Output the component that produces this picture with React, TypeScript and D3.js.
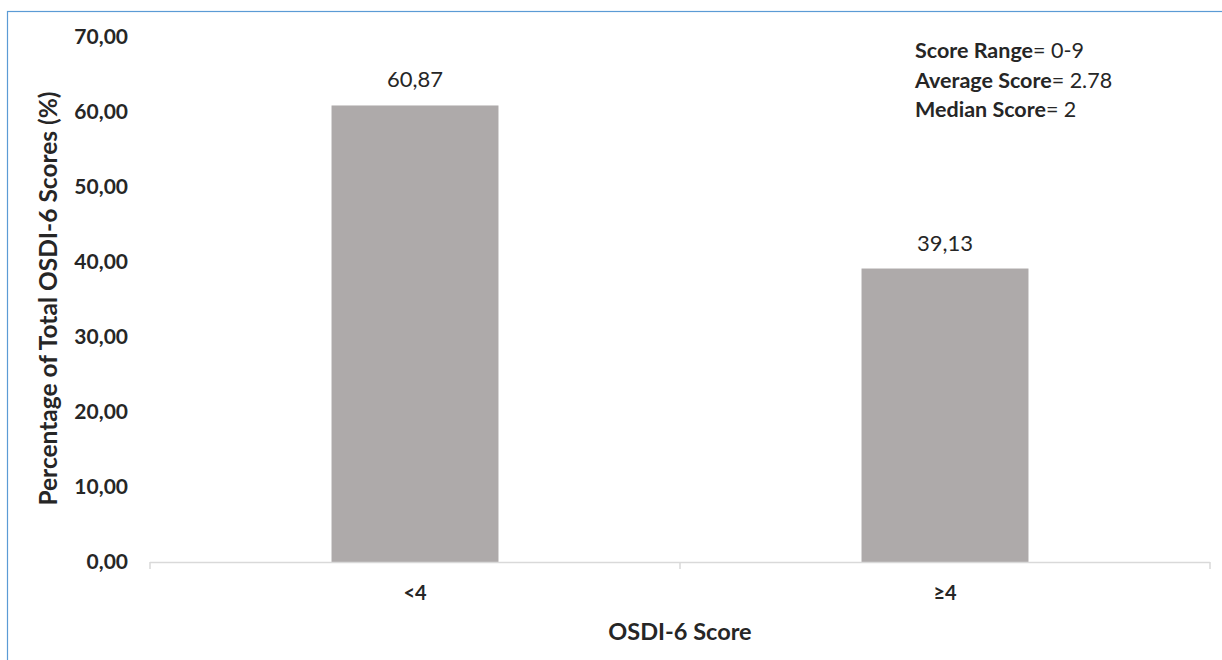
import React from "react";
import * as d3 from "d3";

// chart data
const categories = ["<4", "≥4"];
const percentages = [60.87, 39.13];
const valueLabels = ["60,87", "39,13"];
const yTicks = [0, 10, 20, 30, 40, 50, 60, 70];
const notes = [
  { bold: "Score Range", rest: "= 0-9" },
  { bold: "Average Score", rest: "= 2.78" },
  { bold: "Median Score", rest: "= 2" },
];

const W = 1222;
const H = 660;
const FONT = "Lato, 'Open Sans', sans-serif";
const TEXT = "#262626";

export default function App() {
  const margin = { top: 37, right: 12, bottom: 98, left: 150 };
  const plotW = W - margin.left - margin.right;
  const plotH = H - margin.top - margin.bottom;

  const x = d3.scaleBand().domain(categories).range([0, plotW]).padding(0);
  const y = d3.scaleLinear().domain([0, 70]).range([plotH, 0]);
  const barW = x.bandwidth() * 0.315;
  const fmt = (v: number) => d3.format(".2f")(v).replace(".", ",");

  return (
    <svg
      width={W}
      height={H}
      style={{ position: "absolute", left: 0, top: 0, background: "#fff" }}
      fontFamily={FONT}
    >
      {/* outer frame */}
      <rect x={7.5} y={11.5} width={1300} height={700} fill="#fff" stroke="#5B9BD5" strokeWidth={1.2} />

      <g transform={`translate(${margin.left},${margin.top})`}>
        {/* bars */}
        {categories.map((c, i) => {
          const cx = (x(c) as number) + x.bandwidth() / 2;
          return (
            <g key={c}>
              <rect
                x={cx - barW / 2}
                y={y(percentages[i])}
                width={barW}
                height={plotH - y(percentages[i])}
                fill="#AEAAAA"
              />
              <text
                x={cx}
                y={y(percentages[i]) - 18}
                textAnchor="middle"
                fontSize={22}
                fill={TEXT}
              >
                {valueLabels[i]}
              </text>
              <text
                x={cx}
                y={plotH + 38}
                textAnchor="middle"
                fontSize={20}
                fontWeight="bold"
                fill={TEXT}
              >
                {c}
              </text>
            </g>
          );
        })}

        {/* x axis */}
        <line x1={0} x2={plotW} y1={plotH + 0.5} y2={plotH + 0.5} stroke="#D9D9D9" strokeWidth={1.5} />
        {[0, 1, 2].map((k) => (
          <line
            key={k}
            x1={k * x.step()}
            x2={k * x.step()}
            y1={plotH}
            y2={plotH + 7}
            stroke="#D9D9D9"
            strokeWidth={1.5}
          />
        ))}

        {/* y tick labels */}
        {yTicks.map((t) => (
          <text
            key={t}
            x={-22}
            y={y(t)}
            dy="0.35em"
            textAnchor="end"
            fontSize={21}
            fontWeight="bold"
            fill={TEXT}
          >
            {fmt(t)}
          </text>
        ))}

        {/* axis titles */}
        <text
          transform={`translate(${-93},${plotH / 2 - 1}) rotate(-90)`}
          textAnchor="middle"
          fontSize={24.5}
          fontWeight="bold"
          fill={TEXT}
        >
          Percentage of Total OSDI-6 Scores (%)
        </text>
        <text
          x={plotW / 2}
          y={plotH + 78}
          textAnchor="middle"
          fontSize={23.5}
          fontWeight="bold"
          fill={TEXT}
        >
          OSDI-6 Score
        </text>

        {/* annotation */}
        {notes.map((n, i) => (
          <text key={n.bold} x={765} y={21 + i * 29.5} fontSize={21.5} fill={TEXT}>
            <tspan fontWeight="bold">{n.bold}</tspan>
            <tspan>{n.rest}</tspan>
          </text>
        ))}
      </g>
    </svg>
  );
}
